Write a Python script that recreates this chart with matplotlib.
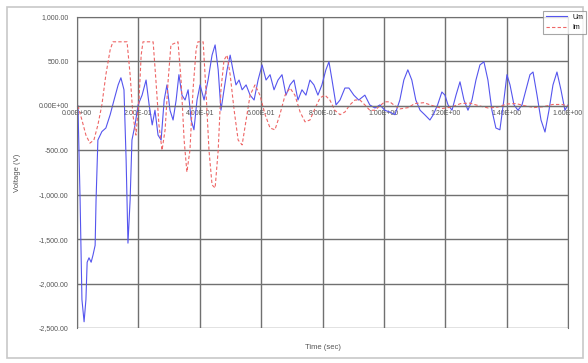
import matplotlib
matplotlib.use("Agg")
import matplotlib.pyplot as plt
from matplotlib.patches import Rectangle
import numpy as np

# --- data ---
t_u = [0.003, 0.010, 0.016, 0.023, 0.029, 0.033, 0.039, 0.046, 0.052, 0.059, 0.062, 0.068,
       0.081, 0.094, 0.108, 0.121, 0.134, 0.143, 0.153, 0.160, 0.166, 0.173, 0.179, 0.189,
       0.199, 0.212, 0.225, 0.235, 0.245, 0.254, 0.264, 0.274, 0.284, 0.293, 0.303, 0.313,
       0.323, 0.332, 0.342, 0.352, 0.362, 0.372, 0.381, 0.391, 0.401, 0.414, 0.427, 0.440,
       0.450, 0.460, 0.469, 0.479, 0.489, 0.499, 0.508, 0.518, 0.528, 0.538, 0.551, 0.564,
       0.577, 0.590, 0.603, 0.616, 0.629, 0.642, 0.655, 0.668, 0.681, 0.694, 0.707, 0.720,
       0.733, 0.746, 0.759, 0.772, 0.785, 0.798, 0.811, 0.821, 0.831, 0.844, 0.857, 0.873,
       0.886, 0.902, 0.918, 0.938, 0.954, 0.971, 0.987, 1.003, 1.019, 1.036, 1.052, 1.065,
       1.078, 1.091, 1.104, 1.118, 1.133, 1.150, 1.161, 1.175, 1.189, 1.199, 1.209, 1.222,
       1.235, 1.248, 1.261, 1.274, 1.287, 1.300, 1.313, 1.326, 1.339, 1.352, 1.365, 1.378,
       1.391, 1.401, 1.411, 1.424, 1.437, 1.450, 1.463, 1.476, 1.486, 1.499, 1.512, 1.525,
       1.538, 1.551, 1.564, 1.577, 1.590, 1.600]
u_vals = [0, -1060, -2180, -2430, -2180, -1760, -1710, -1760, -1680, -1570, -1060, -385,
          -290, -250, -100, 70, 235, 315, 180, -610, -1545, -1060, -385, -215,
          10, 120, 290, 10, -215, -50, -330, -385, 65, 235, -50, -160,
          65, 350, 120, 65, 180, -160, -270, 65, 235, 65, 290, 570,
          685, 405, -50, 180, 405, 570, 405, 235, 290, 180, 235, 120,
          65, 290, 460, 290, 350, 180, 290, 350, 120, 235, 290, 65,
          180, 120, 290, 235, 120, 235, 405, 495, 290, 10, 65, 200,
          200, 120, 65, 120, 10, -25, 10, -50, -70, -100, 65, 290,
          405, 290, 65, -50, -100, -160, -100, 10, 155, 120, 10, -50,
          120, 270, 65, -50, 65, 290, 460, 495, 290, -50, -250, -270,
          65, 350, 235, 10, -50, 10, 180, 350, 380, 120, -160, -295,
          -50, 235, 380, 180, -50, 10]

t_i = [0.003, 0.016, 0.029, 0.042, 0.055, 0.068, 0.081, 0.094, 0.108, 0.117, 0.163, 0.173,
       0.182, 0.192, 0.202, 0.209, 0.215, 0.248, 0.257, 0.267, 0.277, 0.287, 0.297, 0.306,
       0.329, 0.339, 0.349, 0.358, 0.368, 0.378, 0.388, 0.394, 0.411, 0.420, 0.430, 0.440,
       0.450, 0.460, 0.469, 0.479, 0.489, 0.499, 0.512, 0.525, 0.538, 0.551, 0.564, 0.580,
       0.596, 0.613, 0.629, 0.645, 0.661, 0.678, 0.694, 0.710, 0.727, 0.743, 0.759, 0.776,
       0.792, 0.808, 0.824, 0.840, 0.857, 0.873, 0.889, 0.906, 0.922, 0.938, 0.954, 0.971,
       0.987, 1.003, 1.019, 1.036, 1.052, 1.08, 1.10, 1.13, 1.16, 1.19, 1.22, 1.25,
       1.28, 1.31, 1.34, 1.37, 1.40, 1.43, 1.46, 1.49, 1.52, 1.55, 1.58, 1.60]
i_vals = [0, -160, -330, -420, -385, -215, 10, 350, 630, 720, 720, 350,
          -100, -330, 65, 570, 720, 720, 290, -215, -500, -270, 290, 685,
          720, 290, -385, -745, -500, 180, 630, 720, 720, 180, -500, -890,
          -925, -500, 180, 515, 570, 350, -50, -385, -440, -160, 120, 235,
          120, -100, -250, -270, -100, 120, 200, 120, -70, -180, -160, -25,
          90, 120, 65, -50, -100, -70, 10, 65, 65, 10, -50, -50,
          0, 45, 45, 0, -35, -20, 25, 35, 0, -30, -15, 25,
          30, 0, -25, -15, 20, 25, 0, -20, -10, 15, 15, 0]

x_ticks = [0.0, 0.2, 0.4, 0.6, 0.8, 1.0, 1.2, 1.4, 1.6]
x_labels = ["0.00E+00", "2.00E-01", "4.00E-01", "6.00E-01", "8.00E-01",
            "1.00E+00", "1.20E+00", "1.40E+00", "1.60E+00"]
y_ticks = [1000, 500, 0, -500, -1000, -1500, -2000, -2500]
y_labels = ["1,000.00", "500.00", "0.00E+00", "-500.00", "-1,000.00",
            "-1,500.00", "-2,000.00", "-2,500.00"]

plt.rcParams['font.family'] = ['Liberation Sans', 'DejaVu Sans']

fig = plt.figure(figsize=(5.88, 3.63), dpi=100)
ax = fig.add_axes([0.131, 0.0964, 0.835, 0.857])

ax.plot(t_u, u_vals, color="#5555ee", lw=0.8, label="Um")
ax.plot(t_i, i_vals, color="#ee6666", lw=0.8, ls=(0, (3, 2)), label="Im")

ax.set_xlim(0, 1.6)
ax.set_ylim(-2500, 1000)

# x axis crosses at zero (Excel style)
ax.spines["bottom"].set_position(("data", 0))
ax.spines["bottom"].set_color("#707070")
for s in ["top", "right", "left"]:
    ax.spines[s].set_color("#707070")

ax.set_xticks(x_ticks)
ax.set_xticklabels(x_labels)
ax.set_yticks(y_ticks)
ax.set_yticklabels(y_labels)
ax.tick_params(axis="x", length=0, pad=3, labelsize=5, colors="#555555")
ax.tick_params(axis="y", length=0, pad=6, labelsize=5, colors="#555555")
ax.grid(True, color="#707070", lw=1.0)
ax.set_axisbelow(True)

ax.set_xlabel("Time (sec)", fontsize=5.5, color="#555555")
ax.xaxis.set_label_coords(0.5, -0.05)
ax.set_ylabel("Voltage (V)", fontsize=5.5, color="#555555")
ax.yaxis.set_label_coords(-0.115, 0.5)

leg = fig.legend(loc="upper left", bbox_to_anchor=(0.918, 0.98), fontsize=5,
                 frameon=True, fancybox=False, edgecolor="#909090",
                 handlelength=3, borderpad=0.4, labelspacing=0.5)
leg.get_frame().set_linewidth(0.8)

fig.patches.append(Rectangle((0.012, 0.013), 0.98, 0.968, transform=fig.transFigure,
                             fill=False, edgecolor="#c8c8c8", lw=1.2))

fig.savefig("out.png", dpi=100)
